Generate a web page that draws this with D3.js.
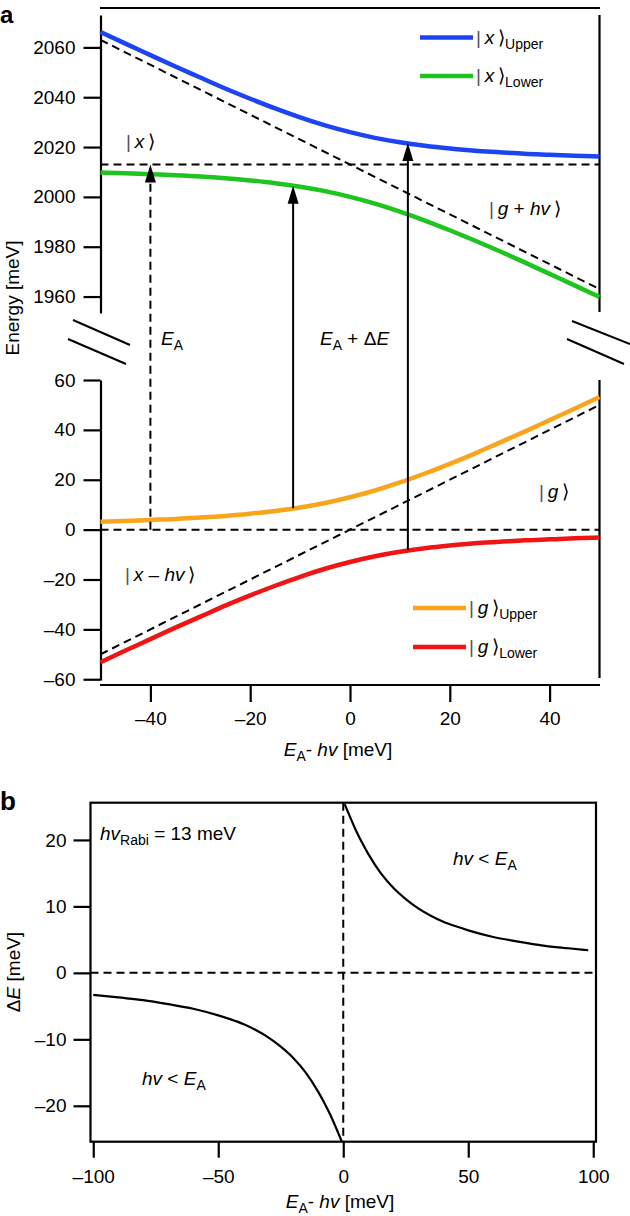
<!DOCTYPE html>
<html><head><meta charset="utf-8">
<script src="https://cdn.jsdelivr.net/npm/d3@7"></script>
<style>
html,body{margin:0;padding:0;background:#fff;}
svg{display:block;}
text{font-family:"Liberation Sans",Arial,"DejaVu Sans",sans-serif;fill:#000;}
</style></head>
<body>
<svg id="chart" width="630" height="1216"></svg>
<script>
// ---------- Panel a data ----------
const detuningA = [-50,-45,-40,-35,-30,-25,-20,-15,-10,-5,0,5,10,15,20,25,30,35,40,45,50];
const xUpper = [2066.2,2061.5,2056.9,2052.3,2047.9,2043.5,2039.4,2035.5,2031.9,2028.7,2026.0,2023.7,2021.9,2020.5,2019.4,2018.5,2017.9,2017.3,2016.9,2016.5,2016.2];
const xLower = [2009.8,2009.5,2009.1,2008.7,2008.2,2007.5,2006.6,2005.5,2004.1,2002.3,2000.0,1997.3,1994.1,1990.5,1986.6,1982.5,1978.2,1973.7,1969.1,1964.5,1959.8];
const gUpper = [3.2,3.5,3.9,4.3,4.9,5.5,6.4,7.5,8.9,10.7,13.0,15.7,18.9,22.5,26.4,30.5,34.9,39.3,43.9,48.5,53.2];
const gLower = [-53.2,-48.5,-43.9,-39.3,-34.9,-30.5,-26.4,-22.5,-18.9,-15.7,-13.0,-10.7,-8.9,-7.5,-6.4,-5.5,-4.9,-4.3,-3.9,-3.5,-3.2];
const xLevel = 2013;
const gLevel = 0;
const gPlusHvEnds = [[-50,2063],[50,1963]];
const xMinusHvEnds = [[-50,-50],[50,50]];
const arrowX = [-40,-11.4,11.6];
const arrowFrom = [0,8.6,-8.3];
const arrowTo = [2013,2004.5,2021.6];
const arrowDashed = [true,false,false];
const ticksUpper = [1960,1980,2000,2020,2040,2060];
const ticksLower = [-60,-40,-20,0,20,40,60];
const ticksXA = [-40,-20,0,20,40];

// ---------- Panel b data ----------
const detuningBPos = [0.6,1,2,3,5,7.5,10,15,20,25,30,35,40,45,50,60,70,80,90,98];
const deltaEPos = [25.4,25.0,24.1,23.2,21.5,19.6,17.9,15.0,12.8,11.1,9.7,8.6,7.7,7.0,6.4,5.4,4.7,4.1,3.7,3.4];
const detuningBNeg = [-100,-90,-80,-70,-60,-50,-45,-40,-35,-30,-25,-20,-15,-10,-7.5,-5,-3,-2,-1,-0.6];
const deltaENeg = [-3.3,-3.7,-4.1,-4.7,-5.4,-6.4,-7.0,-7.7,-8.6,-9.7,-11.1,-12.8,-15.0,-17.9,-19.6,-21.5,-23.2,-24.1,-25.0,-25.4];
const ticksYB = [-20,-10,0,10,20];
const ticksXB = [-100,-50,0,50,100];

const colors = {xUpper:"#1d44f2", xLower:"#20c420", gUpper:"#f9a51b", gLower:"#f01414"};

const svg = d3.select("#chart");
const FS = 19;
const fmt = v => v < 0 ? "\u2013" + Math.abs(v) : String(v);

function rich(g, x, y, parts, anchor) {
  const t = g.append("text").attr("x", x).attr("y", y).attr("font-size", FS)
    .attr("text-anchor", anchor || "start");
  let shift = 0;
  parts.forEach(p => {
    const s = t.append("tspan").text(p.t);
    if (p.i) s.attr("font-style", "italic");
    if (p.bar) s.attr("fill", "#555").attr("font-weight", 300);
    if (p.br) s.attr("font-family", "DejaVu Sans").attr("font-weight", 200).attr("font-size", FS);
    const target = p.sub ? 5 : 0;
    if (target !== shift) { s.attr("dy", target - shift); shift = target; }
    if (p.sub) s.attr("font-size", 14);
  });
  return t;
}
const bar = {t:"|", bar:true};
const br = {t:"\u27E9", br:true};

// ---------- Panel a scales ----------
const xA = d3.scaleLinear().domain([-50,50]).range([100.5,599.5]);
const yUp = d3.scaleLinear().domain([1953.4,2073]).range([313,15]);
const yLo = d3.scaleLinear().domain([-60.3,60]).range([680,380]);

const gA = svg.append("g");

// axes
const axU = gA.append("g").attr("transform","translate(100.5,0)")
  .call(d3.axisLeft(yUp).tickValues(ticksUpper).tickSize(17).tickSizeOuter(0).tickPadding(8).tickFormat(fmt));
const axL = gA.append("g").attr("transform","translate(100.5,0)")
  .call(d3.axisLeft(yLo).tickValues(ticksLower).tickSize(17).tickSizeOuter(0).tickPadding(8).tickFormat(fmt));
const axX = gA.append("g").attr("transform","translate(0,685)")
  .call(d3.axisBottom(xA).tickValues(ticksXA).tickSize(17).tickSizeOuter(0).tickPadding(10).tickFormat(fmt));
axX.select(".domain").attr("d","M100,0H600");
[axU,axL,axX].forEach(a=>{
  a.selectAll("path,line").attr("stroke","#000").attr("stroke-width",2.2);
  a.selectAll("text").attr("font-size",FS).attr("font-family","Liberation Sans, Arial, sans-serif");
});
// right axis + top line
gA.append("line").attr("x1",xA(50)).attr("x2",xA(50)).attr("y1",yUp.range()[1]).attr("y2",312).attr("stroke","#000").attr("stroke-width",2.2);
gA.append("line").attr("x1",xA(50)).attr("x2",xA(50)).attr("y1",380).attr("y2",678).attr("stroke","#000").attr("stroke-width",2.2);
gA.append("line").attr("x1",100).attr("x2",600).attr("y1",8).attr("y2",8).attr("stroke","#000").attr("stroke-width",2.2);

// break marks
[[73,320,130,345],[68,339,126,364],[572,321,630,344],[567,339,624,364]].forEach(d=>{
  gA.append("line").attr("x1",d[0]).attr("y1",d[1]).attr("x2",d[2]).attr("y2",d[3]).attr("stroke","#000").attr("stroke-width",2);
});

// dashed reference lines
const dash = "8,5";
gA.append("line").attr("x1",xA(-50)).attr("x2",xA(50)).attr("y1",yUp(xLevel)).attr("y2",yUp(xLevel))
  .attr("stroke","#000").attr("stroke-width",2).attr("stroke-dasharray",dash);
gA.append("line").attr("x1",xA(-50)).attr("x2",xA(50)).attr("y1",yLo(gLevel)).attr("y2",yLo(gLevel))
  .attr("stroke","#000").attr("stroke-width",2).attr("stroke-dasharray",dash);
gA.append("line").attr("x1",xA(gPlusHvEnds[0][0])).attr("y1",yUp(gPlusHvEnds[0][1]))
  .attr("x2",xA(gPlusHvEnds[1][0])).attr("y2",yUp(gPlusHvEnds[1][1]))
  .attr("stroke","#000").attr("stroke-width",2).attr("stroke-dasharray",dash);
gA.append("line").attr("x1",xA(xMinusHvEnds[0][0])).attr("y1",yLo(xMinusHvEnds[0][1]))
  .attr("x2",xA(xMinusHvEnds[1][0])).attr("y2",yLo(xMinusHvEnds[1][1]))
  .attr("stroke","#000").attr("stroke-width",2).attr("stroke-dasharray",dash);

// curves
function curve(g, xs, ys, xsc, ysc, col, w) {
  const pts = xs.map((x,i)=>[x,ys[i]]);
  g.append("path").datum(pts).attr("fill","none").attr("stroke",col).attr("stroke-width",w)
    .attr("stroke-linecap","butt")
    .attr("d", d3.line().x(d=>xsc(d[0])).y(d=>ysc(d[1])).curve(d3.curveMonotoneX));
}
curve(gA, detuningA, xUpper, xA, yUp, colors.xUpper, 4.5);
curve(gA, detuningA, xLower, xA, yUp, colors.xLower, 4.5);
curve(gA, detuningA, gUpper, xA, yLo, colors.gUpper, 4.5);
curve(gA, detuningA, gLower, xA, yLo, colors.gLower, 4.5);

// arrows
arrowX.forEach((ax,i)=>{
  const px = xA(ax), yTip = yUp(arrowTo[i]), yBot = yLo(arrowFrom[i]);
  const headH = 18, headW = 5.5;
  gA.append("line").attr("x1",px).attr("x2",px).attr("y1",yBot).attr("y2",yTip+headH-2)
    .attr("stroke","#000").attr("stroke-width",2).attr("stroke-dasharray",arrowDashed[i]?dash:null);
  gA.append("path").attr("d",`M${px},${yTip}L${px-headW},${yTip+headH}L${px+headW},${yTip+headH}Z`).attr("fill","#000");
});

// state labels
rich(gA,126,148,[bar,{t:"\u2009"},{t:"x",i:true},{t:"\u2009"},br]);
rich(gA,489,215,[bar,{t:"\u2009"},{t:"g",i:true},{t:" + "},{t:"hv",i:true},{t:"\u2009"},br]);
rich(gA,539,498,[bar,{t:"\u2009"},{t:"g",i:true},{t:"\u2009"},br]);
rich(gA,125,581,[bar,{t:"\u2009"},{t:"x",i:true},{t:" \u2013 "},{t:"hv",i:true},{t:"\u2009"},br]);
rich(gA,161,345,[{t:"E",i:true},{t:"A",sub:true}]);
rich(gA,320,345,[{t:"E",i:true},{t:"A",sub:true},{t:" + \u0394"},{t:"E",i:true}]);

// legends
const legA = [
  {c:colors.xUpper, y:37.5, s:"x", sub:"Upper"},
  {c:colors.xLower, y:76, s:"x", sub:"Lower"},
  {c:colors.gUpper, y:608, s:"g", sub:"Upper"},
  {c:colors.gLower, y:647, s:"g", sub:"Lower"}
];
legA.forEach((d,i)=>{
  const x0 = i<2 ? 420 : 413;
  gA.append("line").attr("x1",x0).attr("x2",x0+53).attr("y1",d.y).attr("y2",d.y).attr("stroke",d.c).attr("stroke-width",4.5);
  rich(gA, x0+56, d.y+6, [bar,{t:"\u2009"},{t:d.s,i:true},{t:"\u2009"},br,{t:d.sub,sub:true}]);
});

// axis titles
gA.append("text").attr("transform","translate(19,298) rotate(-90)").attr("text-anchor","middle").attr("font-size",FS).text("Energy [meV]");
rich(gA,338,756,[{t:"E",i:true},{t:"A",sub:true},{t:"- "},{t:"hv",i:true},{t:" [meV]"}],"middle");
svg.append("text").attr("x",0).attr("y",23).attr("font-size",24).attr("font-weight","bold").text("a");

// ---------- Panel b ----------
const xB = d3.scaleLinear().domain([-101.1,101.1]).range([90.5,596]);
const yB = d3.scaleLinear().domain([-25.4,25.6]).range([1141.7,802.7]);
const gB = svg.append("g");

gB.append("line").attr("x1",xB(-101.1)).attr("x2",xB(101.1)).attr("y1",yB(0)).attr("y2",yB(0)).attr("stroke","#000").attr("stroke-width",2).attr("stroke-dasharray",dash);
gB.append("line").attr("x1",xB(0)).attr("x2",xB(0)).attr("y1",yB(25.6)).attr("y2",yB(-25.4)).attr("stroke","#000").attr("stroke-width",2).attr("stroke-dasharray",dash);

curve(gB, detuningBPos, deltaEPos, xB, yB, "#000", 2.2);
curve(gB, detuningBNeg, deltaENeg, xB, yB, "#000", 2.2);

gB.append("rect").attr("x",xB(-101.1)).attr("y",yB(25.6)).attr("width",xB(101.1)-xB(-101.1)).attr("height",yB(-25.4)-yB(25.6))
  .attr("fill","none").attr("stroke","#000").attr("stroke-width",2.2);
const axYB = gB.append("g").attr("transform",`translate(${xB(-101.1)},0)`)
  .call(d3.axisLeft(yB).tickValues(ticksYB).tickSize(17).tickSizeOuter(0).tickPadding(7).tickFormat(fmt));
const axXB = gB.append("g").attr("transform",`translate(0,${yB(-25.4)})`)
  .call(d3.axisBottom(xB).tickValues(ticksXB).tickSize(16).tickSizeOuter(0).tickPadding(12).tickFormat(fmt));
[axYB,axXB].forEach(a=>{
  a.select(".domain").remove();
  a.selectAll("line").attr("stroke","#000").attr("stroke-width",2.2);
  a.selectAll("text").attr("font-size",FS).attr("font-family","Liberation Sans, Arial, sans-serif");
});

rich(gB,100,840,[{t:"hv",i:true},{t:"Rabi",sub:true},{t:" = 13 meV"}]);
rich(gB,453,865,[{t:"hv",i:true},{t:" < "},{t:"E",i:true},{t:"A",sub:true}]);
rich(gB,142,1085,[{t:"hv",i:true},{t:" < "},{t:"E",i:true},{t:"A",sub:true}]);
const yt = gB.append("text").attr("transform","translate(20,972) rotate(-90)").attr("text-anchor","middle").attr("font-size",FS);
yt.append("tspan").text("\u0394");
yt.append("tspan").attr("font-style","italic").text("E");
yt.append("tspan").text(" [meV]");
rich(gB,340,1208,[{t:"E",i:true},{t:"A",sub:true},{t:"- "},{t:"hv",i:true},{t:" [meV]"}],"middle");
svg.append("text").attr("x",0).attr("y",810).attr("font-size",26).attr("font-weight","bold").text("b");
</script>
</body></html>
